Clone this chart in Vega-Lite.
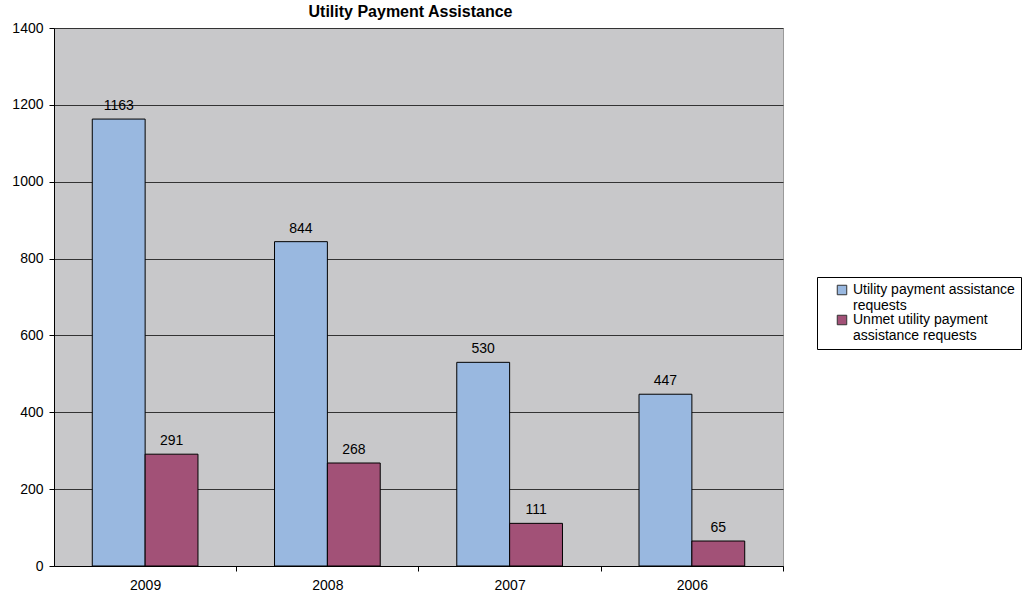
{
  "$schema": "https://vega.github.io/schema/vega-lite/v6.json",
  "autosize": {"type": "none"},
  "width": 729,
  "height": 538,
  "padding": {"left": 54, "top": 28, "right": 241, "bottom": 33},
  "background": "white",
  "title": {"text": "Utility Payment Assistance", "font": "Liberation Sans", "fontSize": 16, "fontWeight": "bold", "color": "#000000", "offset": 1, "dx": -8},
  "config": {
    "view": {"fill": "#C8C8CA", "stroke": "#9a9a9a"},
    "font": "Liberation Sans"
  },
  "data": {"values": [
    {"year": "2009", "series": "Utility payment assistance requests", "value": 1163},
    {"year": "2009", "series": "Unmet utility payment assistance requests", "value": 291},
    {"year": "2008", "series": "Utility payment assistance requests", "value": 844},
    {"year": "2008", "series": "Unmet utility payment assistance requests", "value": 268},
    {"year": "2007", "series": "Utility payment assistance requests", "value": 530},
    {"year": "2007", "series": "Unmet utility payment assistance requests", "value": 111},
    {"year": "2006", "series": "Utility payment assistance requests", "value": 447},
    {"year": "2006", "series": "Unmet utility payment assistance requests", "value": 65}
  ]},
  "encoding": {
    "x": {"field": "year", "type": "nominal", "sort": ["2009", "2008", "2007", "2006"],
      "scale": {"paddingInner": 0.42, "paddingOuter": 0.21},
      "axis": {"title": null, "labelAngle": 0, "labelFont": "Liberation Sans", "labelFontSize": 14, "labelColor": "#000", "labelPadding": 7, "tickOffset": 91, "labelOffset": -91, "tickColor": "#000", "tickSize": 5, "tickWidth": 1, "domainColor": "#000", "grid": false}},
    "xOffset": {"field": "series", "type": "nominal", "sort": ["Utility payment assistance requests", "Unmet utility payment assistance requests"]},
    "y": {"field": "value", "type": "quantitative",
      "scale": {"domain": [0, 1400]},
      "axis": {"title": null, "values": [0, 200, 400, 600, 800, 1000, 1200, 1400], "format": "d", "labelFont": "Liberation Sans", "labelFontSize": 14, "labelColor": "#000", "labelPadding": 6, "tickColor": "#000", "tickSize": 5, "domainColor": "#000", "gridColor": "#333333", "gridWidth": 1, "gridOpacity": 1}}
  },
  "layer": [
    {
      "mark": {"type": "bar", "stroke": "#000", "strokeWidth": 1},
      "encoding": {
        "color": {"field": "series", "type": "nominal", "sort": ["Utility payment assistance requests", "Unmet utility payment assistance requests"],
          "scale": {"range": ["#99B8E0", "#A25177"]},
          "legend": {"title": null, "orient": "none", "legendX": 763, "legendY": 249,
            "symbolType": "square", "symbolSize": 90, "symbolStrokeColor": "#333", "symbolStrokeWidth": 1, "symbolOffset": 12,
            "labelFont": "Liberation Sans", "labelFontSize": 14, "labelColor": "#000", "labelLimit": 300, "labelOffset": 4,
            "labelExpr": "datum.label == 'Utility payment assistance requests' ? ['Utility payment assistance', 'requests'] : ['Unmet utility payment', 'assistance requests']",
            "strokeColor": "#000", "fillColor": "#fff", "padding": 6, "rowPadding": 0}}
      }
    },
    {
      "mark": {"type": "text", "dy": -13, "font": "Liberation Sans", "fontSize": 14, "color": "#000"},
      "encoding": {"text": {"field": "value", "type": "quantitative"}}
    }
  ]
}
